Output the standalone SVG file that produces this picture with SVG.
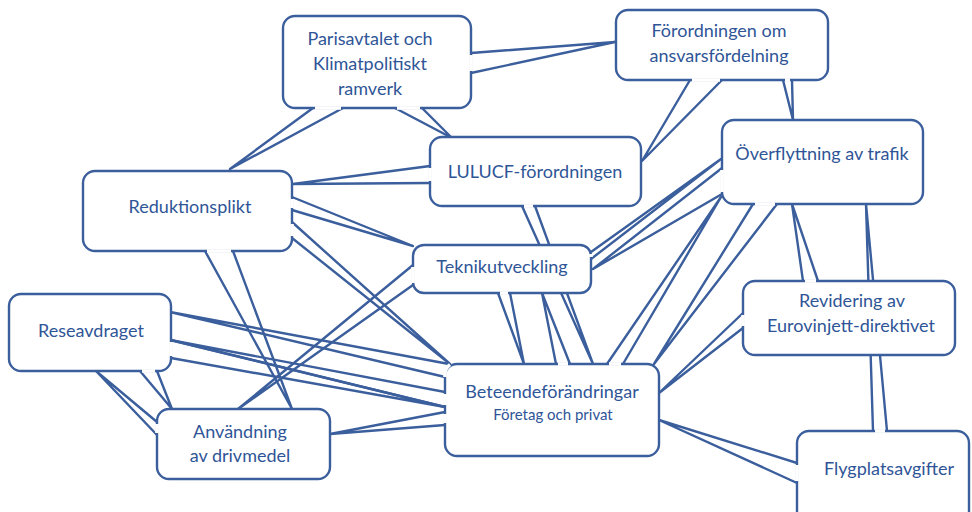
<svg xmlns="http://www.w3.org/2000/svg" width="972" height="512" viewBox="0 0 972 512">
<style>
.t{fill:none;stroke:#3b5e9c;stroke-width:2.4;stroke-linejoin:round}
.b{fill:#fff;stroke:#3b5e9c;stroke-width:2.4}
.g{fill:none;stroke:#fff;stroke-width:3.6}
text{font-family:Lato,"Open Sans",sans-serif;font-size:18px;fill:#2f5597;text-anchor:middle}
.s{font-size:15px}
</style>
<rect width="972" height="512" fill="#fff"/>
<g id="connectors">
<polyline class="t" points="313,108 230,169 343,108"/>
<polyline class="t" points="395,108 452,138 422,108"/>
<polyline class="t" points="471,53 615,42 471,73"/>
<polyline class="t" points="690,80 642,161 722,80"/>
<polyline class="t" points="783,80 793,120 792,80"/>
<polyline class="t" points="430,166 293,184 430,183"/>
<polyline class="t" points="522,206 593,364 535,206"/>
<polyline class="t" points="292,197 413,246 292,210"/>
<polyline class="t" points="292,222 450,364 292,238"/>
<polyline class="t" points="205,251 292,409 233,251"/>
<polyline class="t" points="413,265 238,409 413,285"/>
<polyline class="t" points="498,293 524,364 510,293"/>
<polyline class="t" points="556,364 542,293 570,364"/>
<polyline class="t" points="591,252 721,159 591,259"/>
<polyline class="t" points="722,168 593,269 722,194"/>
<polyline class="t" points="607,364 721,197 623,364"/>
<polyline class="t" points="753,204 654,364 777,204"/>
<polyline class="t" points="803,281 792,204 818,281"/>
<polyline class="t" points="743,313 659,393 743,328"/>
<polyline class="t" points="873,431 866,204 887,431"/>
<polyline class="t" points="797,463 659,420 797,483"/>
<polyline class="t" points="449,364 170,312 445,377"/>
<polyline class="t" points="445,392 170,340 445,407"/>
<polyline class="t" points="171,340 445,407 171,358"/>
<polyline class="t" points="445,412 330,434 445,425"/>
<polyline class="t" points="140,371 172,409 157,371"/>
<polyline class="t" points="157,422 96,371 157,435"/>
</g>
<g id="parisavtalet">
<rect class="b" x="283" y="16" width="188" height="92" rx="12"/>
<path class="g" d="M315,108H341M397,108H420M471,55V71"/>
<text x="370" y="45">Parisavtalet och</text>
<text x="370" y="70">Klimatpolitiskt</text>
<text x="370" y="95">ramverk</text>
</g>
<g id="forordningen">
<rect class="b" x="616" y="10" width="212" height="70" rx="12"/>
<path class="g" d="M692,80H720M785,80H790"/>
<text x="719" y="37">Förordningen om</text>
<text x="719" y="62">ansvarsfördelning</text>
</g>
<g id="lulucf">
<rect class="b" x="430" y="137" width="211" height="69" rx="12"/>
<path class="g" d="M430,168V181M524,206H533"/>
<text x="535" y="178">LULUCF-förordningen</text>
</g>
<g id="overflyttning">
<rect class="b" x="722" y="120" width="201" height="84" rx="12"/>
<path class="g" d="M722,170V192M755,204H775"/>
<text x="822" y="160">Överflyttning av trafik</text>
</g>
<g id="reduktionsplikt">
<rect class="b" x="83" y="171" width="209" height="80" rx="12"/>
<path class="g" d="M292,199V208M292,224V236M207,251H231"/>
<text x="190" y="213">Reduktionsplikt</text>
</g>
<g id="teknikutveckling">
<rect class="b" x="413" y="245" width="178" height="48" rx="11"/>
<path class="g" d="M413,267V283M500,293H508M591,254V257"/>
<text x="502" y="273">Teknikutveckling</text>
</g>
<g id="reseavdraget">
<rect class="b" x="9" y="294" width="162" height="77" rx="12"/>
<path class="g" d="M171,342V356M142,371H155"/>
<text x="91" y="337">Reseavdraget</text>
</g>
<g id="revidering">
<rect class="b" x="743" y="281" width="212" height="74" rx="12"/>
<path class="g" d="M805,281H816M743,315V326"/>
<text x="852" y="307">Revidering av</text>
<text x="851" y="332">Eurovinjett-direktivet</text>
</g>
<g id="beteende">
<rect class="b" x="445" y="364" width="214" height="92" rx="12"/>
<path class="g" d="M558,364H568M609,364H621M450,364.6A12,12 0 0 0 445,375V377M445,394V405M445,414V423"/>
<text x="552" y="398">Beteendeförändringar</text>
<text class="s" x="553" y="420">Företag och privat</text>
</g>
<g id="anvandning">
<rect class="b" x="157" y="409" width="173" height="70" rx="12"/>
<path class="g" d="M157,424V433"/>
<text x="240" y="438">Användning</text>
<text x="240" y="462">av drivmedel</text>
</g>
<g id="flygplatsavgifter">
<rect class="b" x="797" y="431" width="172" height="95" rx="12"/>
<path class="g" d="M875,431H885M797,465V481"/>
<text x="889" y="475">Flygplatsavgifter</text>
</g>
</svg>
